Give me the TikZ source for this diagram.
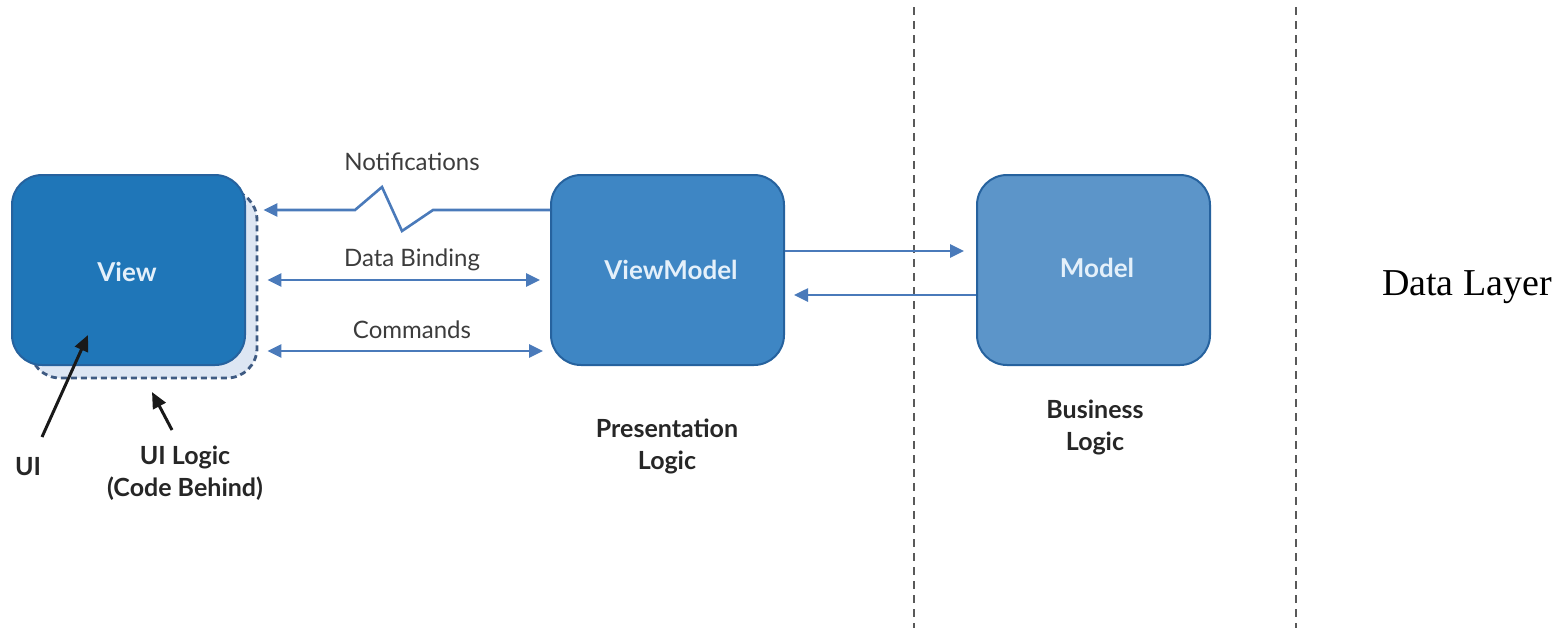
\documentclass[tikz,border=0pt]{standalone}
\usepackage{fontspec}
\setmainfont{Lato}
\newfontfamily\serifdl{Liberation Serif}
\usetikzlibrary{arrows.meta,calc}
\definecolor{viewfill}{RGB}{31,118,184}
\definecolor{vmfill}{RGB}{62,134,196}
\definecolor{modelfill}{RGB}{92,149,201}
\definecolor{boxline}{RGB}{38,98,158}
\definecolor{arrcol}{RGB}{74,122,186}
\definecolor{boxtext}{RGB}{228,240,250}
\definecolor{uilfill}{RGB}{221,230,243}
\definecolor{uilline}{RGB}{62,90,130}
\definecolor{labtext}{RGB}{60,60,60}
\tikzset{
  blk/.style={draw=boxline, line width=1pt, rounded corners=15pt, minimum width=116.5pt, minimum height=95pt, inner sep=0pt},
  boxlbl/.style={font=\fontsize{13}{15}\selectfont\bfseries, text=boxtext},
  arr/.style={draw=arrcol, line width=1.3pt, -{Triangle[length=7pt,width=6.5pt]}},
  darr/.style={draw=arrcol, line width=1.3pt, {Triangle[length=7pt,width=6.5pt]}-{Triangle[length=7pt,width=6.5pt]}},
  lbl/.style={font=\fontsize{12}{14}\selectfont, text=labtext, inner sep=0pt},
  blbl/.style={font=\fontsize{12.5}{16}\selectfont\bfseries, text=black!85, align=center, inner sep=0pt},
  sep/.style={draw=black!65, line width=0.9pt, dash pattern=on 4pt off 3pt},
  pointer/.style={draw=black!90, line width=1.5pt, -{Triangle[length=8pt,width=7pt]}}
}
\begin{document}
\begin{tikzpicture}[x=0.5pt,y=-0.5pt]
\useasboundingbox (0,0) rectangle (1564,628);
% separators
\draw[sep] (914,7) -- (914,628);
\draw[sep] (1296,7) -- (1296,628);
% UI logic area
\node[draw=uilline, fill=uilfill, line width=1.4pt, dash pattern=on 3pt off 2pt, rounded corners=15pt, minimum width=113.5pt, minimum height=94pt, inner sep=0pt] (uil) at (143.5,284) {};
% boxes
\node[blk, fill=viewfill] (view) at (128.5,270) {};
\node[boxlbl] (viewt) at (127,272) {View};
\node[blk, fill=vmfill] (vm) at (667.5,270) {};
\node[boxlbl] (vmt) at (671,270) {ViewModel};
\node[blk, fill=modelfill] (model) at (1093.5,270) {};
\node[boxlbl] (modelt) at (1097,268) {Model};
% notifications
\coordinate (ntip) at ($(uil.east |- 0,210)+(5,0)$);
\draw[arr] (vm.west |- 0,210) -- (433,210) -- (402,231) -- (382,187) -- (355,210) -- (ntip);
\node[lbl] (notif) at (412,162) {Notifications};
% data binding
\coordinate (dbl) at ($(uil.east |- 0,280)+(9,0)$);
\coordinate (dbr) at ($(vm.west |- 0,280)+(-10,0)$);
\draw[darr] (dbl) -- (dbr);
\node[lbl] (dbt) at (412,260) {Data Binding};
% commands
\coordinate (cml) at ($(uil.east |- 0,351)+(9,0)$);
\coordinate (cmr) at ($(vm.west |- 0,351)+(-7,0)$);
\draw[darr] (cml) -- (cmr);
\node[lbl] (cmt) at (412,330) {Commands};
% vm <-> model
\draw[arr] (vm.east |- 0,251) -- ($(model.west |- 0,251)+(-12,0)$);
\draw[arr] (model.west |- 0,295) -- ($(vm.east |- 0,295)+(9,0)$);
% labels under
\node[blbl] (pl) at (667,446) {Presentation\\Logic};
\node[blbl] (bl) at (1095,427) {Business\\Logic};
\node[blbl] (ui) at (28,467) {UI};
\node[blbl] (uilt) at (185,473) {UI Logic\\(Code Behind)};
\coordinate (uitip) at (88,335);
\draw[pointer] (42,437) -- (uitip);
\coordinate (uiltip) at (152,392);
\draw[pointer] (172,430) -- (uiltip);
% data layer
\node[font=\serifdl\fontsize{19}{22}\selectfont, text=black, anchor=base, inner sep=0pt] (dl) at (1467,295) {Data Layer};
\end{tikzpicture}
\end{document}
